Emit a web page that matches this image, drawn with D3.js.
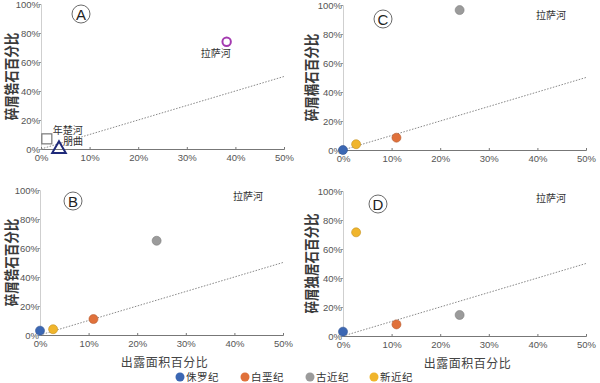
<!DOCTYPE html>
<html>
<head>
<meta charset="utf-8">
<script src="https://cdn.jsdelivr.net/npm/d3@7"></script>
<style>
body { margin: 0; background: #fff; }
svg { font-family: "Noto Sans CJK SC", "Liberation Sans", sans-serif; }
</style>
</head>
<body>
<div id="chart"></div>
<script>
// ---------------- DATA ----------------
const periods = ["侏罗纪", "白垩纪", "古近纪", "新近纪"];
const periodColors = ["#3b67b3", "#e0713b", "#9b9b9b", "#f0b52c"];

const xTicks = [0, 10, 20, 30, 40, 50];
const yTicks = [0, 20, 40, 60, 80, 100];

// panel A : rivers, exposure % vs zircon %
const riverNames = ["拉萨河", "年楚河", "朋曲"];
const riverX = [38.2, 1.2, 3.7];
const riverY = [74, 7, 0];

// panels B,C,D : Lhasa river, per period (x = exposure %)
const periodX = [0, 11, 24, 2.7];
const zirconY = [3, 11, 65, 4];
const titaniteY = [0, 8.5, 96.5, 4];
const monaziteY = [3, 8, 14.5, 71.5];

const panelTitles = ["碎屑锆石百分比", "碎屑榍石百分比", "碎屑锆石百分比", "碎屑独居石百分比"];
const xTitle = "出露面积百分比";

// ---------------- LAYOUT ----------------
const W = 600, H = 383;
const pw = 243, ph = 145;
const panels = [
  { key: "A", left: 41, top: 4, title: panelTitles[0], values: null, xTitle: false, lx: 40, ly: 10, rl: 0, tx: 17 },
  { key: "C", left: 343, top: 5, title: panelTitles[1], values: titaniteY, xTitle: false, lx: 40, ly: 14, rl: 14, tx: 317 },
  { key: "B", left: 40, top: 190, title: panelTitles[2], values: zirconY, xTitle: true, lx: 33, ly: 11, rl: 10, tx: 17 },
  { key: "D", left: 343, top: 191, title: panelTitles[3], values: monaziteY, xTitle: true, lx: 35, ly: 13, rl: 11, tx: 317 }
];

const svg = d3.select("#chart").append("svg")
  .attr("width", W).attr("height", H);

const x = d3.scaleLinear().domain([0, 50]).range([0, pw]);
const y = d3.scaleLinear().domain([0, 100]).range([ph, 0]);

const numFont = "Liberation Sans, Arial, sans-serif";

panels.forEach(function(p) {
  const g = svg.append("g").attr("transform", "translate(" + p.left + "," + p.top + ")");

  // y axis
  const ya = g.append("g")
    .call(d3.axisLeft(y).tickValues(yTicks).tickSize(2).tickFormat(d => d + "%"));
  ya.select(".domain").attr("stroke", "#cfcfcf");
  ya.selectAll(".tick line").attr("stroke", "#999");
  ya.selectAll(".tick text").attr("x", -1).attr("fill", "#555").style("font-size", "9.5px")
    .style("font-family", numFont);

  // x axis
  const xa = g.append("g").attr("transform", "translate(0," + ph + ")")
    .call(d3.axisBottom(x).tickValues(xTicks).tickSize(-2).tickFormat(d => d + "%"));
  xa.select(".domain").attr("stroke", "#777");
  xa.selectAll(".tick line").attr("stroke", "#777");
  xa.selectAll(".tick text").attr("y", 5).attr("fill", "#555").style("font-size", "9.5px")
    .style("font-family", numFont);

  // 1:1 reference line
  g.append("line")
    .attr("x1", x(0)).attr("y1", y(0)).attr("x2", x(50)).attr("y2", y(50))
    .attr("stroke", "#888").attr("stroke-width", 1).attr("stroke-dasharray", "1.5,1.5");

  // y title (tall glyphs, as in the original)
  g.append("text")
    .attr("transform", "translate(" + (p.tx - p.left) + "," + (ph / 2) + ") rotate(-90) scale(1,1.2)")
    .attr("text-anchor", "middle")
    .attr("fill", "#3a3a3a")
    .style("font-size", "12.5px").style("font-weight", "bold")
    .text(p.title);

  if (p.xTitle) {
    g.append("text")
      .attr("x", pw / 2 + 3).attr("y", ph + 32)
      .attr("text-anchor", "middle").attr("fill", "#444")
      .style("font-size", "12px").style("letter-spacing", "0.5px")
      .text(xTitle);
  }

  // panel letter
  g.append("circle").attr("cx", p.lx).attr("cy", p.ly).attr("r", 9)
    .attr("fill", "none").attr("stroke", "#444").attr("stroke-width", 0.8);
  g.append("text").attr("x", p.lx).attr("y", p.ly + 5.5)
    .attr("text-anchor", "middle").attr("fill", "#222")
    .style("font-size", "15px").style("font-family", numFont)
    .text(p.key);

  if (p.key === "A") {
    // Lhasa: open magenta circle
    g.append("circle").attr("cx", x(riverX[0])).attr("cy", y(riverY[0])).attr("r", 4.2)
      .attr("fill", "none").attr("stroke", "#a43ab0").attr("stroke-width", 2);
    g.append("text").attr("x", x(riverX[0]) - 11).attr("y", y(riverY[0]) + 15)
      .attr("text-anchor", "middle").attr("fill", "#333").style("font-size", "10px")
      .text(riverNames[0]);
    // Nianchu: open gray square
    g.append("rect").attr("x", x(riverX[1]) - 5).attr("y", y(riverY[1]) - 5)
      .attr("width", 10).attr("height", 10)
      .attr("fill", "none").attr("stroke", "#777").attr("stroke-width", 1.2);
    g.append("text").attr("x", x(riverX[1]) + 6).attr("y", y(riverY[1]) - 5)
      .attr("fill", "#333").style("font-size", "10px").text(riverNames[1]);
    // Pengqu: open navy triangle
    const tx = x(riverX[2]), ty = y(riverY[2]);
    g.append("path")
      .attr("d", d3.symbol().type(d3.symbolTriangle).size(80)())
      .attr("transform", "translate(" + tx + "," + ty + ")")
      .attr("fill", "none").attr("stroke", "#1f2a7a").attr("stroke-width", 2);
    g.append("text").attr("x", tx + 4).attr("y", ty - 4)
      .attr("fill", "#333").style("font-size", "10px").text(riverNames[2]);
  } else {
    g.append("text").attr("x", 208).attr("y", p.rl)
      .attr("text-anchor", "middle").attr("fill", "#333").style("font-size", "10px")
      .text(riverNames[0]);
    g.selectAll(".pt").data(periods).enter().append("circle")
      .attr("class", "pt")
      .attr("cx", (d, i) => x(periodX[i]))
      .attr("cy", (d, i) => y(p.values[i]))
      .attr("r", 4.5)
      .attr("fill", (d, i) => periodColors[i])
      .attr("stroke", (d, i) => d3.color(periodColors[i]).darker(0.6))
      .attr("stroke-width", 0.6);
  }
});

// legend
const legendX = [180, 245, 310, 374];
const lg = svg.append("g").attr("transform", "translate(0,377)");
periods.forEach(function(name, i) {
  lg.append("circle").attr("cx", legendX[i]).attr("cy", 0).attr("r", 4.5)
    .attr("fill", periodColors[i]);
  lg.append("text").attr("x", legendX[i] + 6).attr("y", 4)
    .attr("fill", "#333").style("font-size", "10.5px").style("letter-spacing", "0.5px")
    .text(name);
});
</script>
</body>
</html>
